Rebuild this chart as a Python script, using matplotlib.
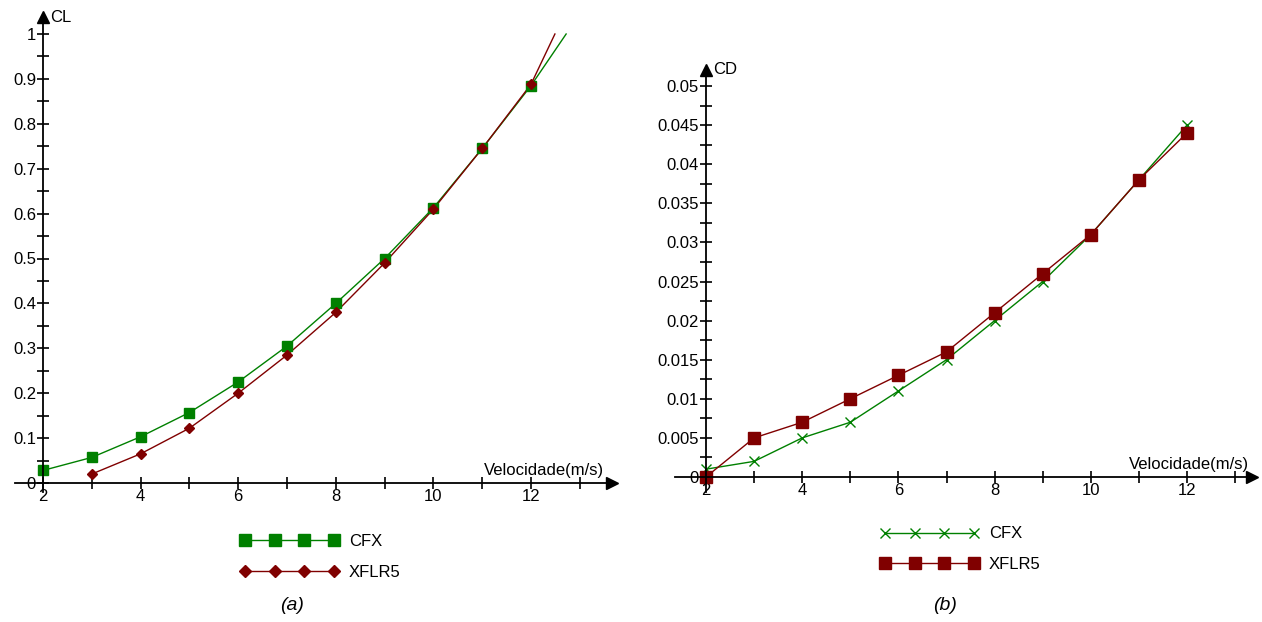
import matplotlib
matplotlib.use('Agg')
import matplotlib.pyplot as plt
from matplotlib.ticker import MultipleLocator, FixedLocator

plt.rcParams['font.family'] = ['Liberation Sans Narrow', 'Liberation Sans', 'DejaVu Sans']

W, H = 1262, 622

# (a) lift coefficient
vel = [2, 3, 4, 5, 6, 7, 8, 9, 10, 11, 12]
cl_cfx = [0.028, 0.057, 0.103, 0.157, 0.225, 0.305, 0.40, 0.50, 0.613, 0.745, 0.885]
cl_cfx_end = [12.72, 1.0]
vel_xflr = [3, 4, 5, 6, 7, 8, 9, 10, 11, 12]
cl_xflr = [0.020, 0.065, 0.122, 0.200, 0.285, 0.380, 0.490, 0.610, 0.745, 0.888]
cl_xflr_end = [12.49, 1.0]

# (b) drag coefficient
cd_cfx = [0.001, 0.002, 0.005, 0.007, 0.011, 0.015, 0.020, 0.025, 0.031, 0.038, 0.045]
cd_xflr = [0.0, 0.005, 0.007, 0.010, 0.013, 0.016, 0.021, 0.026, 0.031, 0.038, 0.044]

green = '#008000'
red = '#800000'

fig = plt.figure(figsize=(W / 100, H / 100), dpi=100)


def make_axes(px_left, px_right, px_top, px_bot, x0px, xunit, y0px, yunit):
    ax = fig.add_axes([px_left / W, 1 - px_bot / H, (px_right - px_left) / W, (px_bot - px_top) / H])
    ax.set_xlim(2 + (px_left - x0px) / xunit, 2 + (px_right - x0px) / xunit)
    ax.set_ylim(-(px_bot - y0px) / yunit, (y0px - px_top) / yunit)
    ax.patch.set_alpha(0)
    for s in ['top', 'right']:
        ax.spines[s].set_visible(False)
    ax.spines['left'].set_position(('data', 2))
    ax.spines['bottom'].set_position(('data', 0))
    ax.spines['left'].set_linewidth(1.3)
    ax.spines['bottom'].set_linewidth(1.3)
    ax.plot(1, 0, '>k', ms=8, transform=ax.get_yaxis_transform(), clip_on=False)
    ax.plot(2, 1, '^k', ms=8, transform=ax.get_xaxis_transform(), clip_on=False)
    ax.xaxis.set_major_locator(FixedLocator([2, 4, 6, 8, 10, 12]))
    ax.xaxis.set_minor_locator(FixedLocator([3, 5, 7, 9, 11, 13]))
    ax.tick_params(which='both', direction='inout', length=8, width=1.2, labelsize=12, colors='black')
    ax.tick_params(axis='x', pad=0)
    ax.tick_params(axis='y', pad=1)
    return ax


# ---- (a)
ax1 = make_axes(15, 612, 17, 492, 43, 48.8, 483, 449)
ax1.yaxis.set_minor_locator(MultipleLocator(0.05))
ax1.set_yticks([0, 0.1, 0.2, 0.3, 0.4, 0.5, 0.6, 0.7, 0.8, 0.9, 1.0])
ax1.set_yticklabels(['0', '0.1', '0.2', '0.3', '0.4', '0.5', '0.6', '0.7', '0.8', '0.9', '1'])
ax1.plot(vel + [cl_cfx_end[0]], cl_cfx + [cl_cfx_end[1]], color=green, lw=1)
ax1.plot(vel_xflr + [cl_xflr_end[0]], cl_xflr + [cl_xflr_end[1]], color=red, lw=1)
ax1.plot(vel, cl_cfx, color=green, marker='s', ms=7.5, ls='none')
ax1.plot(vel_xflr, cl_xflr, color=red, marker='D', ms=5, ls='none')
ax1.text(2.15, 1.0, 'CL', transform=ax1.get_xaxis_transform(), va='center', ha='left', fontsize=12)
ax1.text(13.5, 0.012, 'Velocidade(m/s)', ha='right', va='bottom', fontsize=12)
h1, = ax1.plot([], [], color=green, lw=1, marker='s', ms=8.5)
h2, = ax1.plot([], [], color=red, lw=1, marker='D', ms=6)
fig.legend([h1, h2], ['CFX', 'XFLR5'], loc='upper left', bbox_to_anchor=(232 / W, 1 - 526 / H),
           numpoints=4, handlelength=5.9, handletextpad=0.6, labelspacing=0.95, frameon=False,
           borderpad=0, fontsize=12)
fig.text(292 / W, 1 - 605 / H, '(a)', style='italic', ha='center', va='center', fontsize=14,
         family=['Liberation Sans', 'DejaVu Sans'])

# ---- (b)
ax2 = make_axes(675, 1252, 70, 492, 706, 48.1, 477, 7820)
ax2.set_yticks([0, 0.005, 0.01, 0.015, 0.02, 0.025, 0.03, 0.035, 0.04, 0.045, 0.05])
ax2.set_yticklabels(['0', '0.005', '0.01', '0.015', '0.02', '0.025', '0.03', '0.035', '0.04', '0.045', '0.05'])
ax2.yaxis.set_minor_locator(MultipleLocator(0.0025))
ax2.plot(vel, cd_cfx, color=green, lw=1, marker='x', ms=7, mew=1)
ax2.plot(vel, cd_xflr, color=red, lw=1, marker='s', ms=8)
ax2.text(2.15, 1.0, 'CD', transform=ax2.get_xaxis_transform(), va='center', ha='left', fontsize=12)
ax2.text(13.3, 0.0006, 'Velocidade(m/s)', ha='right', va='bottom', fontsize=12)
h3, = ax2.plot([], [], color=green, lw=1, marker='x', ms=7, mew=1)
h4, = ax2.plot([], [], color=red, lw=1, marker='s', ms=8.5)
fig.legend([h3, h4], ['CFX', 'XFLR5'], loc='upper left', bbox_to_anchor=(872 / W, 1 - 518 / H),
           numpoints=4, handlelength=5.9, handletextpad=0.6, labelspacing=0.95, frameon=False,
           borderpad=0, fontsize=12)
fig.text(945 / W, 1 - 605 / H, '(b)', style='italic', ha='center', va='center', fontsize=14,
         family=['Liberation Sans', 'DejaVu Sans'])

fig.savefig('out.png', dpi=100)
